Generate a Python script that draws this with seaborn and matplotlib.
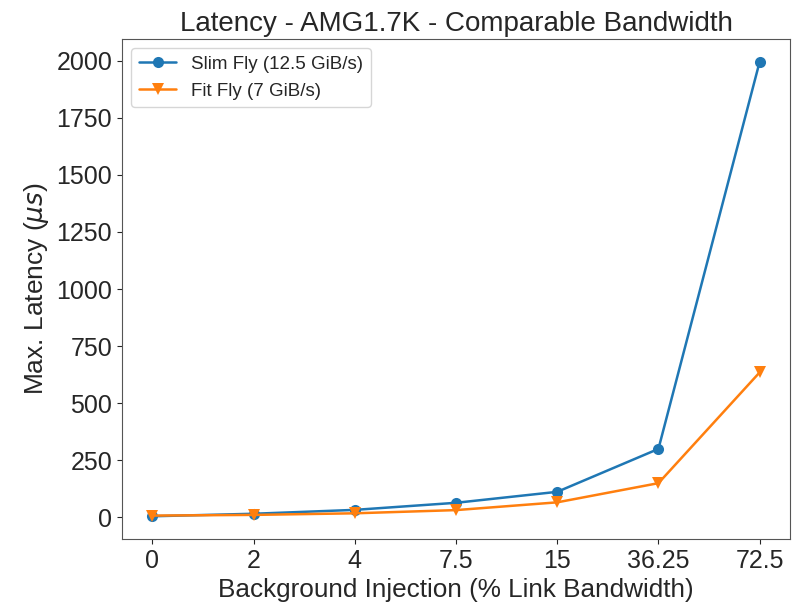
import matplotlib
matplotlib.use("Agg")
import matplotlib.pyplot as plt
import seaborn as sns
import pandas as pd

categories = ["0", "2", "4", "7.5", "15", "36.25", "72.5"]
slim_fly = [5, 16, 33, 64, 112, 300, 1995]
fit_fly = [8, 11, 18, 32, 66, 150, 635]
series_names = ["Slim Fly (12.5 GiB/s)", "Fit Fly (7 GiB/s)"]

sns.set_style("ticks")
plt.rcParams['font.family'] = ['Liberation Sans', 'DejaVu Sans']
plt.rcParams['mathtext.fontset'] = 'dejavusans'

df = pd.DataFrame({
    "x": categories * 2,
    "y": slim_fly + fit_fly,
    "series": [series_names[0]] * len(categories) + [series_names[1]] * len(categories),
})

fig = plt.figure(figsize=(7.92, 6.10), dpi=100)
ax = fig.add_axes([0.154, 0.1164, 0.8435, 0.8196])
sns.lineplot(data=df, x="x", y="y", hue="series", style="series",
             markers=["o", "v"], dashes=False, markersize=8, linewidth=1.8,
             markeredgewidth=0, palette=["#1f77b4", "#ff7f0e"], ax=ax)
ax.set_title("Latency - AMG1.7K - Comparable Bandwidth", fontsize=20)
ax.set_xlabel("Background Injection (% Link Bandwidth)", fontsize=18.8)
ax.set_ylabel(r"Max. Latency ($\mu s$)", fontsize=19)
ax.tick_params(labelsize=18)
ax.set_yticks([0, 250, 500, 750, 1000, 1250, 1500, 1750, 2000])
ax.margins(x=0.05, y=0.05)
for s in ax.spines.values():
    s.set_visible(True)
    s.set_color("#555555")
leg = ax.legend(loc="upper left", fontsize=13.5, title=None)
fig.savefig("out.png", dpi=100)
